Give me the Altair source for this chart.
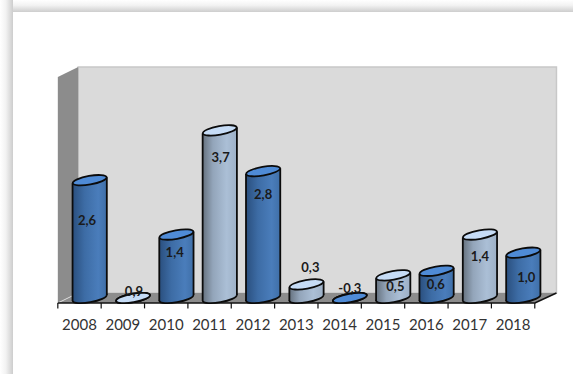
import altair as alt
import pandas as pd

years = [2008, 2009, 2010, 2011, 2012, 2013, 2014, 2015, 2016, 2017, 2018]
# Column heights; the value axis starts at zero, so 2009 and 2014 lie flat on the floor.
heights = [2.6, 0.0, 1.4, 3.7, 2.8, 0.3, 0.0, 0.5, 0.6, 1.4, 1.0]
value_labels = ["2,6", "0,9", "1,4", "3,7", "2,8", "0,3", "-0,3", "0,5", "0,6", "1,4", "1,0"]
families = ["blue", "grey", "blue", "grey", "blue", "grey", "blue", "grey", "blue", "grey", "blue"]
# Where each value label sits, in axis units.
label_level = [1.70, 0.13, 1.00, 3.10, 2.28, 0.66, 0.20, 0.24, 0.29, 0.90, 0.44]
label_shift = [-0.06, 0.02, -0.04, 0.02, 0.0, 0.09, 0.0, 0.05, -0.02, 0.0, 0.07]

W, H = 573, 374
# Scales cover the whole canvas: one year is 43.36 px, one axis unit 45.3 px.
X_DOMAIN = [2006.1665, 2019.3815]
Y_DOMAIN = [-1.678, 6.578]
x_scale = alt.Scale(domain=X_DOMAIN, range=[0, W], nice=False, zero=False)
y_scale = alt.Scale(domain=Y_DOMAIN, range=[H, 0], nice=False, zero=False)


def X(field):
    return alt.X(field, type="quantitative", scale=x_scale, axis=None)


def Y(field):
    return alt.Y(field, type="quantitative", scale=y_scale, axis=None, stack=None)


COL_SHIFT = 0.235   # columns stand in the middle of the floor's depth
HALF = 0.395        # half a column's width
SKEW = 0.065        # the tilted ellipses lift the right side of each column
ELLIPSE = "M-0.985,0.174 A1,0.25,-10,1,1,0.985,-0.174 A1,0.25,-10,1,1,-0.985,0.174 Z"
DIAMETER = 34.4
OUTLINE = 1.8
FRONT = -0.11       # front edge of the floor
BACK = 0.11         # back edge of the floor
WALL_TOP = 5.1


def gradient(stops, horizontal=True):
    return alt.LinearGradient(
        gradient="linear",
        stops=[alt.GradientStop(offset=o, color=c) for o, c in stops],
        x1=0, x2=1 if horizontal else 0, y1=0, y2=0 if horizontal else 1,
    )


BODY = {
    "blue": gradient([(0, "#2a4f7e"), (0.35, "#3d6ca5"), (0.75, "#4a7dbb"), (1, "#3f6fa8")]),
    "grey": gradient([(0, "#66727f"), (0.3, "#93a5ba"), (0.7, "#abbfd6"), (1, "#9db0c6")]),
}
CAP = {"blue": "#4f8bd6", "grey": "#c6dcf6"}

rows = pd.DataFrame({
    "year": years, "h": heights, "text": value_labels, "family": families,
    "lx": [y + COL_SHIFT + s for y, s in zip(years, label_shift)], "ly": label_level,
})
rows["cx"] = rows["year"] + COL_SHIFT
rows["year_y"] = -0.595

sides = pd.DataFrame([
    {"year": y, "family": f, "x": y + COL_SHIFT + d * HALF, "low": d * SKEW, "high": h + d * SKEW}
    for y, h, f in zip(years, heights, families) for d in (-1, 1)
])

# Page: white card with a soft shadow along its top and left edges.
page = pd.DataFrame({"a": [0]})


def chrome(x, x2, y, y2, fill):
    return alt.Chart(page).mark_rect(fill=fill).encode(
        x=alt.value(x), x2=alt.value(x2), y=alt.value(y), y2=alt.value(y2))


SHADOW = [(0, "#ffffff"), (0.45, "#f2f2f2"), (1, "#cdcdcd")]
card = [
    chrome(0, W, 0, 12, gradient(SHADOW, horizontal=False)),
    chrome(0, 13, 0, H, gradient(SHADOW)),
]

# Walls and floor of the chart box.
back_wall = alt.Chart(pd.DataFrame({"x": [2007.97], "x2": [2019.0], "y": [BACK], "y2": [WALL_TOP]})).mark_rect(
    fill="#dadada", stroke="#c8c8c8", strokeWidth=1.5,
).encode(x=X("x"), x2=alt.X2("x2"), y=Y("y"), y2=alt.Y2("y2"))

left_wall = alt.Chart(pd.DataFrame({
    "x": [2007.5, 2007.97], "y": [FRONT, BACK], "top": [WALL_TOP - 0.22, WALL_TOP],
})).mark_area(fill="#8c8c8c").encode(x=X("x"), y=Y("y"), y2=alt.Y2("top"))

floor = alt.Chart(pd.DataFrame({
    "x": [2007.5, 2007.97, 2018.5, 2019.0],
    "low": [FRONT, FRONT, FRONT, BACK],
    "high": [FRONT, BACK, BACK, BACK],
})).mark_area(fill="#8c8c8c").encode(x=X("x"), y=Y("low"), y2=alt.Y2("high"))

floor_inner = alt.Chart(pd.DataFrame({"x": [2007.5, 2007.97], "y": [FRONT, BACK]})).mark_line(
    color="#d9d9d9", strokeWidth=1).encode(x=X("x"), y=Y("y"))
floor_right = alt.Chart(pd.DataFrame({"x": [2018.5, 2019.0], "y": [FRONT, BACK]})).mark_line(
    color="#111111", strokeWidth=1.5).encode(x=X("x"), y=Y("y"))

# Front axis line, ticks and year labels.
axis_line = alt.Chart(pd.DataFrame({"x": [2007.5], "x2": [2018.5], "y": [FRONT]})).mark_rule(
    color="#111111", strokeWidth=1.6).encode(x=X("x"), x2=alt.X2("x2"), y=Y("y"))
tick_df = pd.DataFrame({"x": [y - 0.5 for y in years] + [years[-1] + 0.5]})
tick_df["y"], tick_df["y2"] = FRONT, -0.23
ticks = alt.Chart(tick_df).mark_rule(color="#111111", strokeWidth=1.2).encode(
    x=X("x"), y=Y("y"), y2=alt.Y2("y2"))
year_text = alt.Chart(rows).mark_text(
    font="Lato", fontSize=15, color="#333333", baseline="middle", align="center",
).encode(x=X("year"), y=Y("year_y"), text=alt.Text("year:O"))


def ellipse_layer(df, field, fill):
    return alt.Chart(df).mark_point(
        shape=ELLIPSE, filled=True, fill=fill, stroke="#0b0b0b", strokeWidth=OUTLINE, opacity=1,
        size=DIAMETER ** 2,
    ).encode(x=X("cx"), y=Y(field))


# Cylinders, drawn left to right so neighbours overlap correctly.
cylinders = []
for fam in ["blue", "grey"]:
    r = rows[rows["family"] == fam].assign(base=0.0)
    s = sides[sides["family"] == fam]
    cylinders += [
        ellipse_layer(r, "base", BODY[fam]),
        alt.Chart(s).mark_area(fill=BODY[fam]).encode(
            x=X("x"), y=Y("low"), y2=alt.Y2("high"), detail="year:N"),
        alt.Chart(s).mark_rule(color="#0b0b0b", strokeWidth=OUTLINE).encode(
            x=X("x"), y=Y("low"), y2=alt.Y2("high")),
        ellipse_layer(r, "h", CAP[fam]),
    ]

value_text = alt.Chart(rows).mark_text(
    font="Lato", fontSize=13, fontWeight="bold", color="#1a1a1a", baseline="middle", align="center",
).encode(x=X("lx"), y=Y("ly"), text="text:N")

chart = alt.layer(
    *card, back_wall, left_wall, floor, floor_inner, floor_right, axis_line, ticks, year_text,
    *cylinders, value_text,
).properties(
    width=W, height=H, padding=0, autosize=alt.AutoSizeParams(type="none"), background="white",
).configure_view(stroke=None)

chart.save("out.html", embed_options={"renderer": "svg", "actions": False})
